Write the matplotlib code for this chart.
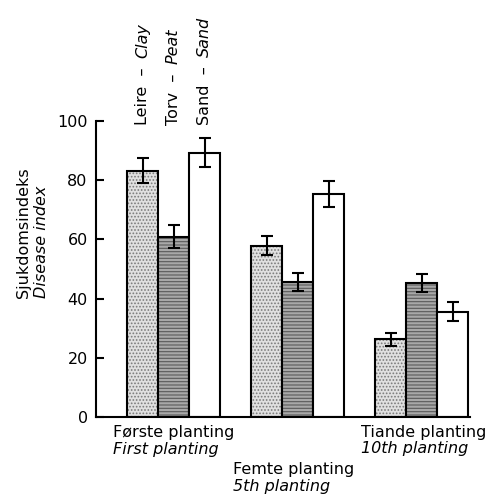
import numpy as np
import matplotlib
matplotlib.use("Agg")
import matplotlib.pyplot as plt

plt.rcParams['font.family'] = ['DejaVu Sans']
plt.rcParams['hatch.linewidth'] = 0.8

# data
plantings_no = ["Første planting", "Femte planting", "Tiande planting"]
plantings_en = ["First planting", "5th planting", "10th planting"]
soils_no = ["Leire", "Torv", "Sand"]
soils_en = ["Clay", "Peat", "Sand"]
leire = [83.2, 57.9, 26.2]
torv = [60.9, 45.5, 45.2]
sand = [89.3, 75.4, 35.5]
leire_err = [4.2, 3.2, 2.1]
torv_err = [3.8, 3.0, 3.0]
sand_err = [4.9, 4.4, 3.2]

values = [leire, torv, sand]
errors = [leire_err, torv_err, sand_err]
faces = ['#e0e0e0', '#a8a8a8', 'white']
hatch_cols = ['#7a7a7a', '#5a5a5a', 'white']
hatches = ['.....', '-----', None]

fig = plt.figure(figsize=(4.86, 4.95), dpi=100)
ax = fig.add_axes([96 / 486, 78 / 495, 374 / 486, 296 / 495])

fs = 11.5
group_start = np.arange(3) * 4 + 1
for j in range(3):
    x = group_start + j + 0.5
    ax.bar(x, values[j], width=1.0, color=faces[j], edgecolor=hatch_cols[j],
           hatch=hatches[j], linewidth=0)
    ax.bar(x, values[j], width=1.0, fill=False, edgecolor='black', linewidth=1.5)
    ax.errorbar(x, values[j], yerr=errors[j], fmt='none', ecolor='black',
                elinewidth=1.5, capsize=4.5, capthick=1.5)

# rotated soil labels above first group: plain part then italic part
fig.canvas.draw()
for j in range(3):
    t = ax.text(group_start[0] + j + 0.5, 98.5, soils_no[j] + "  \u2013  ",
                rotation=90, ha='center', va='bottom', fontsize=fs, clip_on=False)
    bb = t.get_window_extent(renderer=fig.canvas.get_renderer())
    bb = bb.transformed(ax.transData.inverted())
    ax.text(group_start[0] + j + 0.5, bb.y1, soils_en[j], rotation=90,
            ha='center', va='bottom', fontsize=fs, style='italic', clip_on=False)

# category labels
label_x = [0.55, 4.42, 8.55]
label_y = [-5.4, -17.9, -5.1]
for i in range(3):
    ax.text(label_x[i], label_y[i], plantings_no[i], ha='left', va='center',
            fontsize=fs, clip_on=False)
    ax.text(label_x[i], label_y[i] - 5.5, plantings_en[i], ha='left', va='center',
            fontsize=fs, style='italic', clip_on=False)

# y labels
ax.text(-2.33, 40.2, "Sjukdomsindeks", rotation=90, ha='center', va='bottom',
        fontsize=fs, clip_on=False)
ax.text(-1.77, 40.2, "Disease index", rotation=90, ha='center', va='bottom',
        fontsize=fs, style='italic', clip_on=False)

ax.set_xlim(0, 12.06)
ax.set_ylim(0, 100)
ax.set_yticks([0, 20, 40, 60, 80, 100])
ax.set_xticks([])
ax.tick_params(axis='y', direction='in', length=6, width=1.5, labelsize=fs, pad=6)
for s in ['top', 'right']:
    ax.spines[s].set_visible(False)
ax.spines['left'].set_linewidth(1.5)
ax.spines['bottom'].set_linewidth(1.5)

fig.savefig("out.png", dpi=100)
